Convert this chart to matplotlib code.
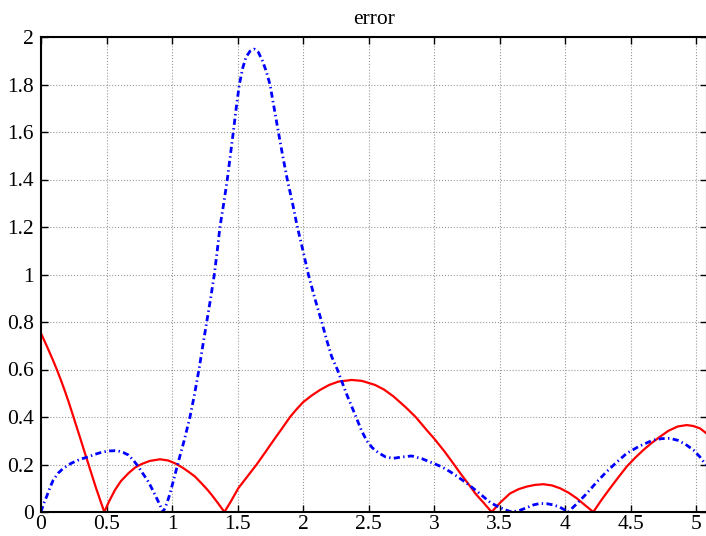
import numpy as np
import matplotlib.pyplot as plt

# values
x_red = [0, 0.03, 0.06, 0.09, 0.12, 0.15, 0.18, 0.21, 0.24, 0.27, 0.30, 0.33,
         0.36, 0.39, 0.42, 0.45, 0.483,
         0.52, 0.565, 0.61, 0.667, 0.72, 0.768, 0.83, 0.908, 0.97, 1.023,
         1.08, 1.13, 1.176, 1.23, 1.27, 1.303, 1.35, 1.40,
         1.45, 1.506, 1.576, 1.646, 1.71, 1.773, 1.84, 1.901, 1.95, 2.0,
         2.065, 2.13, 2.20, 2.27, 2.372, 2.45, 2.55, 2.62, 2.69, 2.78, 2.86,
         2.944, 3.0, 3.08, 3.153, 3.198, 3.26, 3.32, 3.38, 3.44,
         3.51, 3.58, 3.645, 3.708, 3.77, 3.834, 3.90, 3.962, 4.025, 4.089,
         4.15, 4.216,
         4.28, 4.344, 4.41, 4.471, 4.535, 4.598, 4.66, 4.725, 4.79, 4.86,
         4.929, 4.98, 5.031, 5.08]
y_red = [0.752, 0.716, 0.679, 0.641, 0.601, 0.558, 0.513, 0.465, 0.414, 0.362,
         0.310, 0.257, 0.205, 0.153, 0.101, 0.053, 0.0,
         0.045, 0.093, 0.13, 0.163, 0.188, 0.202, 0.215, 0.222, 0.217, 0.205,
         0.187, 0.168, 0.149, 0.118, 0.094, 0.072, 0.038, 0.0,
         0.045, 0.10, 0.15, 0.20, 0.25, 0.30, 0.352, 0.40, 0.432, 0.462,
         0.49, 0.514, 0.535, 0.549, 0.556, 0.552, 0.535, 0.515, 0.487, 0.443,
         0.40, 0.345, 0.31, 0.255, 0.20, 0.165, 0.12, 0.075, 0.038, 0.0,
         0.042, 0.078, 0.096, 0.107, 0.114, 0.117, 0.112, 0.10, 0.082, 0.058,
         0.03, 0.0,
         0.052, 0.10, 0.148, 0.191, 0.228, 0.261, 0.29, 0.317, 0.342, 0.36,
         0.366, 0.362, 0.352, 0.331]

x_blue = [0, 0.02, 0.043, 0.07, 0.094, 0.13, 0.17, 0.23, 0.298, 0.36, 0.412,
          0.46, 0.514, 0.565, 0.59, 0.63, 0.667, 0.705, 0.743, 0.78, 0.819,
          0.85, 0.883, 0.91, 0.932, 0.96, 0.985, 1.01, 1.036, 1.065, 1.094,
          1.137, 1.17, 1.206, 1.235, 1.265, 1.295, 1.323, 1.346, 1.366, 1.395,
          1.422, 1.445, 1.468, 1.49, 1.514, 1.54, 1.565, 1.595, 1.628, 1.66,
          1.69, 1.72, 1.748, 1.78, 1.812, 1.845, 1.88, 1.92, 1.957, 2.0,
          2.041, 2.09, 2.143, 2.181, 2.219, 2.262, 2.33, 2.405, 2.445, 2.486,
          2.53, 2.575, 2.63, 2.689, 2.76, 2.829, 2.91, 2.995, 3.06, 3.122,
          3.19, 3.25, 3.315, 3.376, 3.43, 3.48, 3.54, 3.593, 3.65, 3.708,
          3.76, 3.809, 3.86, 3.91, 3.962, 4.025, 4.09, 4.166, 4.24, 4.318,
          4.395, 4.471, 4.57, 4.674, 4.74, 4.802, 4.86, 4.92, 4.98, 5.03,
          5.076]
y_blue = [0, 0.035, 0.065, 0.105, 0.135, 0.163, 0.184, 0.205, 0.222, 0.232,
          0.243, 0.251, 0.257, 0.258, 0.257, 0.25, 0.24, 0.218, 0.191, 0.16,
          0.128, 0.095, 0.058, 0.027, 0.0, 0.035, 0.078, 0.13, 0.185, 0.245,
          0.303, 0.40, 0.49, 0.6, 0.7, 0.8, 0.9, 1.0, 1.103, 1.2, 1.3,
          1.4, 1.5, 1.6, 1.7, 1.8, 1.87, 1.915, 1.94, 1.949, 1.935,
          1.9, 1.855, 1.8, 1.7, 1.6, 1.5, 1.4, 1.3, 1.2, 1.1,
          1.0, 0.9, 0.8, 0.724, 0.654, 0.6, 0.5, 0.4, 0.345, 0.3,
          0.27, 0.25, 0.232, 0.226, 0.232, 0.236, 0.224, 0.205, 0.19, 0.17,
          0.145, 0.121, 0.093, 0.065, 0.04, 0.025, 0.01, 0.0, 0.006, 0.018,
          0.03, 0.036, 0.035, 0.03, 0.02, 0.0, 0.035, 0.078, 0.125, 0.17,
          0.21, 0.247, 0.278, 0.303, 0.309, 0.31, 0.302, 0.285, 0.261, 0.232,
          0.198]

x_ticks = [0, 0.5, 1, 1.5, 2, 2.5, 3, 3.5, 4, 4.5, 5]
y_ticks = [0, 0.2, 0.4, 0.6, 0.8, 1, 1.2, 1.4, 1.6, 1.8, 2]

plt.rcParams['font.family'] = ['Liberation Serif', 'DejaVu Serif']
plt.rcParams['font.size'] = 15.5

fig = plt.figure(figsize=(7.06, 5.36), dpi=100)
ax = fig.add_axes([41/706, 24/536, 666/706, 475/536])

ax.plot(x_red, y_red, color='red', lw=1.6)
ax.plot(x_blue, y_blue, color='blue', lw=2.0, ls=(0, (2.2, 1.2, 0.5, 1.2)))

ax.set_xlim(0, 666/131)
ax.set_ylim(0, 2)
ax.set_xticks(x_ticks)
ax.set_yticks(y_ticks)
ax.set_xticklabels(['%g' % v for v in x_ticks])
ax.set_yticklabels(['%g' % v for v in y_ticks])
ax.tick_params(direction='in', length=5, width=1, top=True, right=True)
ax.tick_params(axis='x', pad=2)
ax.tick_params(axis='y', pad=5)
ax.grid(True, ls=':', color='#999999', lw=0.8)
for s in ax.spines.values():
    s.set_linewidth(1.5)
ax.set_title('error', fontsize=15.5, pad=9)

fig.savefig('out.png', dpi=100)
